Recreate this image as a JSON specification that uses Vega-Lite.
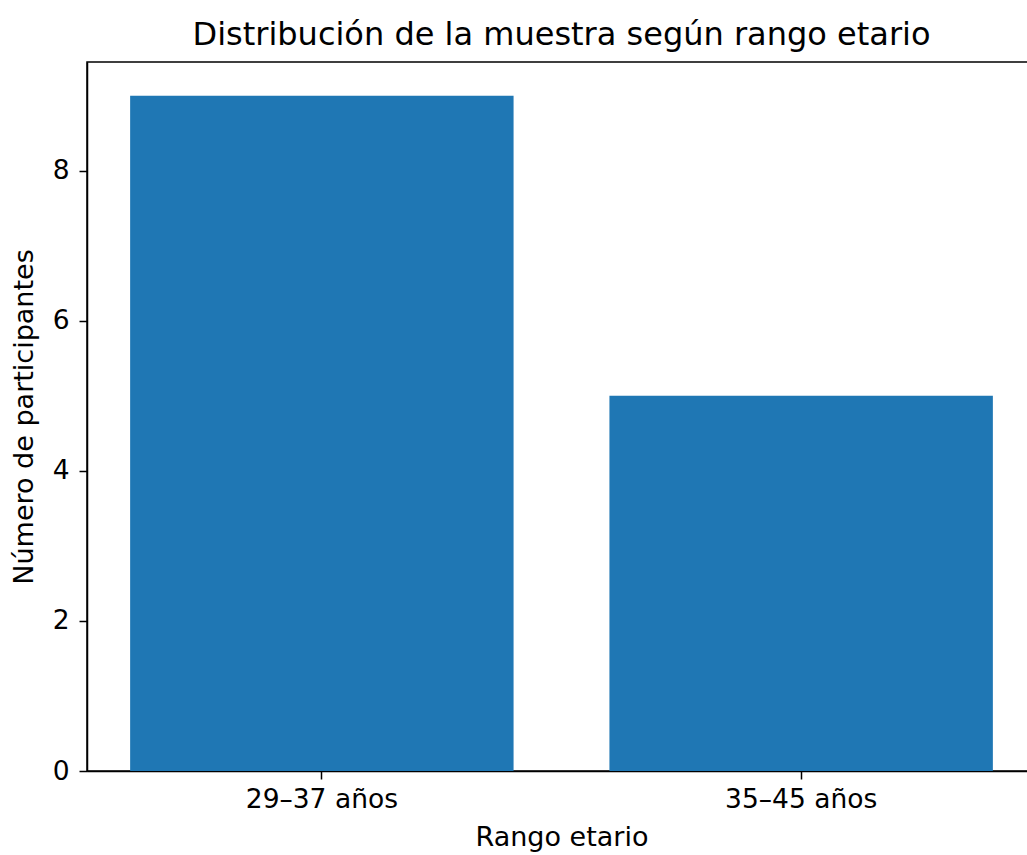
{
  "$schema": "https://vega.github.io/schema/vega-lite/v6.json",
  "autosize": "none",
  "width": 949,
  "height": 709,
  "padding": {"left": 87, "top": 62, "right": 0, "bottom": 84},
  "background": "white",
  "title": {"text": "Distribución de la muestra según rango etario", "fontSize": 32, "fontWeight": "normal", "font": "DejaVu Sans", "color": "black", "offset": 10},
  "data": {"values": [
    {"rango": "29–37 años", "n": 9},
    {"rango": "35–45 años", "n": 5}
  ]},
  "mark": {"type": "bar", "color": "#1f77b4"},
  "encoding": {
    "x": {"field": "rango", "type": "nominal", "sort": null, "title": "Rango etario",
      "scale": {"paddingInner": 0.2, "paddingOuter": 0.09},
      "axis": {"labelAngle": 0, "labelFontSize": 26.5, "titleFontSize": 27, "labelFont": "DejaVu Sans", "titleFont": "DejaVu Sans", "titleFontWeight": "normal", "labelColor": "black", "titleColor": "black", "tickColor": "black", "domainColor": "black", "domainWidth": 1.5, "tickWidth": 1.5, "tickSize": 8, "labelPadding": 7, "titlePadding": 12}},
    "y": {"field": "n", "type": "quantitative", "title": "Número de participantes",
      "scale": {"domain": [0, 9.45], "nice": false},
      "axis": {"values": [0, 2, 4, 6, 8], "grid": false, "labelFontSize": 26.5, "titleFontSize": 27, "labelFont": "DejaVu Sans", "titleFont": "DejaVu Sans", "titleFontWeight": "normal", "labelColor": "black", "titleColor": "black", "tickColor": "black", "domainColor": "black", "domainWidth": 1.5, "tickWidth": 1.5, "tickSize": 8, "labelPadding": 10, "titlePadding": 14}}
  },
  "config": {"view": {"stroke": "black", "strokeWidth": 1.5}}
}
